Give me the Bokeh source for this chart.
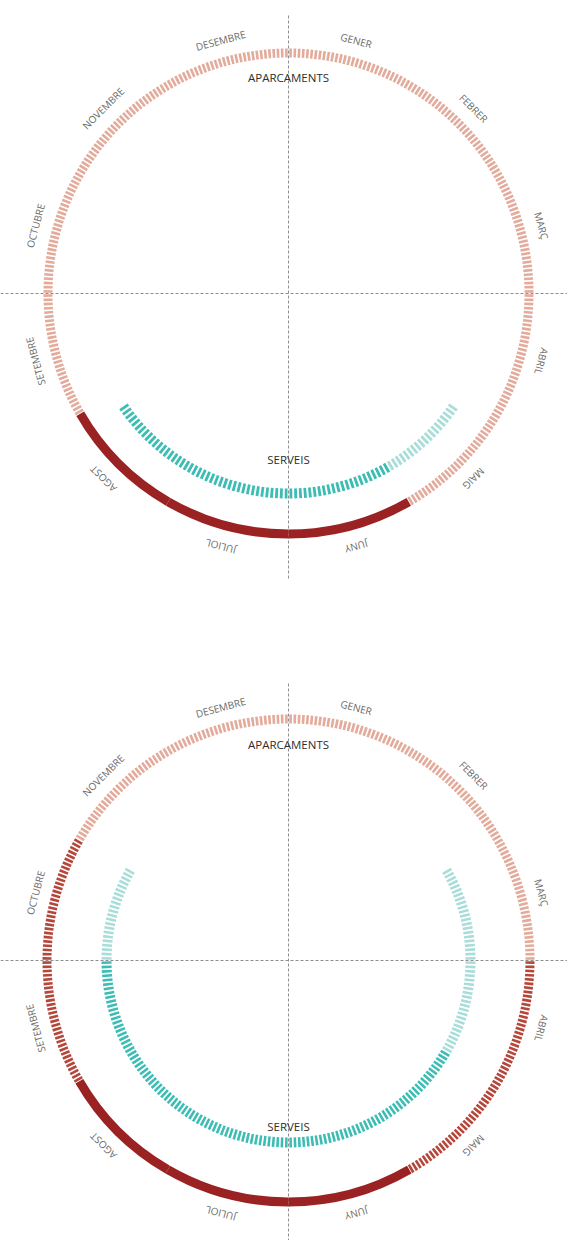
import numpy as np
from bokeh.plotting import figure
from bokeh.models import Range1d, ColumnDataSource
from bokeh.core.properties import value
from bokeh.embed import file_html
from bokeh.resources import INLINE

# ---------------- data ----------------
months = ["GENER", "FEBRER", "MARÇ", "ABRIL", "MAIG", "JUNY",
          "JULIOL", "AGOST", "SETEMBRE", "OCTUBRE", "NOVEMBRE", "DESEMBRE"]
# parking (APARCAMENTS) occupancy level per month: 0 low, 1 medium, 2 high
parking_1 = [0, 0, 0, 0, 0, 2, 2, 2, 0, 0, 0, 0]
parking_2 = [0, 0, 0, 1, 1, 2, 2, 2, 1, 1, 0, 0]
# services (SERVEIS) level per month: 0 closed, 1 low, 2 high
services_1 = [0, 0, 0, 0, 1, 2, 2, 2, 0, 0, 0, 0]
services_2 = [0, 0, 1, 1, 2, 2, 2, 2, 2, 1, 0, 0]
# services season (opening / closing, in months from 1 January)
season_1 = (4.13, 7.87)
season_2 = (2.0, 10.0)
outer_label = "APARCAMENTS"
inner_label = "SERVEIS"

# ---------------- style ----------------
PARK_COLORS = {0: "#e3ab9b", 1: "#b5463a", 2: "#9b2222"}
SERV_COLORS = {1: "#a8ddd9", 2: "#3bbdb4"}
LABEL_COLOR = "#6a6a6a"
TITLE_COLOR = "#2e2e2e"
GUIDE_COLOR = "#8f8f8f"
FONT = "Open Sans"

W, H = 567, 1240
p = figure(width=W, height=H, output_backend="svg", toolbar_location=None,
           x_range=Range1d(0, W), y_range=Range1d(0, H), min_border=0)
p.axis.visible = False
p.grid.visible = False
p.outline_line_color = None
p.background_fill_color = "white"


def to_bokeh(theta_deg):
    # clockwise degrees from 12 o'clock -> bokeh radians (ccw from +x)
    return np.deg2rad(90.0 - np.asarray(theta_deg, dtype=float))


def draw_chart(cx, cy, parking, services, season, r_out, r_in, v_top, v_bot):
    # guides
    p.segment(x0=[cx, 0], y0=[v_top, cy], x1=[cx, W], y1=[v_bot, cy],
              line_color=GUIDE_COLOR, line_width=1, line_dash="3 2")

    # outer ring: 30 ticks per month, solid band for level 2
    ticks = dict(start=[], end=[], color=[])
    tw = 0.62
    for m, lvl in enumerate(parking):
        if lvl == 2:
            p.annular_wedge(x=cx, y=cy, inner_radius=r_out[0], outer_radius=r_out[1],
                            start_angle=float(to_bokeh(30 * m + 30)),
                            end_angle=float(to_bokeh(30 * m)),
                            fill_color=PARK_COLORS[2], line_color=None)
            continue
        for k in range(30):
            th = 30 * m + k + 0.5
            ticks["start"].append(float(to_bokeh(th + tw / 2)))
            ticks["end"].append(float(to_bokeh(th - tw / 2)))
            ticks["color"].append(PARK_COLORS[lvl])
    p.annular_wedge(x=cx, y=cy, inner_radius=r_out[0], outer_radius=r_out[1],
                    start_angle="start", end_angle="end", fill_color="color",
                    line_color=None, source=ColumnDataSource(ticks))

    # inner arc: services ticks
    st = dict(start=[], end=[], color=[])
    n = 22
    step = 30.0 / n
    sw = 0.8
    lo, hi = season[0] * 30, season[1] * 30
    for m, lvl in enumerate(services):
        if lvl == 0:
            continue
        for k in range(n):
            th = 30 * m + (k + 0.5) * step
            if th < lo or th > hi:
                continue
            st["start"].append(float(to_bokeh(th + sw / 2)))
            st["end"].append(float(to_bokeh(th - sw / 2)))
            st["color"].append(SERV_COLORS[lvl])
    p.annular_wedge(x=cx, y=cy, inner_radius=r_in[0], outer_radius=r_in[1],
                    start_angle="start", end_angle="end", fill_color="color",
                    line_color=None, source=ColumnDataSource(st))

    # month labels
    th = np.array([30 * i + 15 for i in range(12)], dtype=float)
    rl = 262
    lx = cx + rl * np.sin(np.deg2rad(th))
    ly = cy + rl * np.cos(np.deg2rad(th))
    p.text(x=lx, y=ly, text=months, angle=-np.deg2rad(th),
           text_align="center", text_baseline="middle",
           text_font=value(FONT), text_font_size="10px", text_color=LABEL_COLOR)

    # titles
    p.text(x=[cx], y=[cy + 216], text=[outer_label], text_align="center",
           text_baseline="middle", text_font=value(FONT), text_font_size="11.5px",
           text_color=TITLE_COLOR)
    p.text(x=[cx], y=[cy - 166], text=[inner_label], text_align="center",
           text_baseline="middle", text_font=value(FONT), text_font_size="11.5px",
           text_color=TITLE_COLOR)


# chart 1 (page centre 288,293) ; chart 2 (page centre 288,960)
draw_chart(288, 947, parking_1, services_1, season_1, (236, 245), (195, 205), 1225, 662)
draw_chart(288, 280, parking_2, services_2, season_2, (237, 246), (177, 187), 557, 0)

open("out.html", "w").write(file_html(p, INLINE))
